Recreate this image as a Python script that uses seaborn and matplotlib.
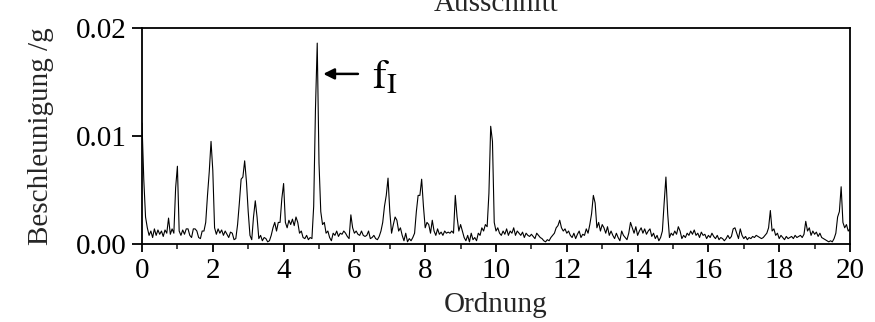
import numpy as np
import pandas as pd
import matplotlib
matplotlib.use("Agg")
import matplotlib.pyplot as plt
import seaborn as sns

# Amplitudes in units of 1e-4 g, sampled every 0.05 order (20 samples per order)
amp_00_04 = [
    112, 60, 25, 15, 8, 12, 6, 14, 8, 13, 9, 12, 7, 13, 10, 24, 9, 14, 10, 52,
    72, 12, 8, 13, 9, 14, 14, 8, 6, 14, 14, 12, 6, 5, 12, 12, 20, 45, 67, 95,
    68, 15, 9, 14, 10, 13, 8, 12, 9, 6, 11, 10, 4, 5, 18, 38, 60, 62, 77, 58,
    30, 8, 4, 25, 40, 25, 5, 8, 3, 6, 5, 2, 3, 8, 15, 20, 12, 20, 20, 42,
    56, 20, 15, 22, 18, 23, 17, 25, 20, 10, 12, 6, 5, 8, 4, 6, 5, 35, 125, 186,
]
amp_05_09 = [
    75, 30, 18, 20, 10, 12, 6, 3, 10, 8, 12, 7, 10, 9, 12, 10, 7, 5, 27, 15,
    10, 12, 9, 8, 12, 8, 7, 8, 12, 5, 6, 8, 5, 4, 7, 12, 20, 35, 45, 61,
    30, 10, 18, 25, 22, 12, 15, 8, 3, 10, 2, 5, 3, 6, 10, 30, 45, 45, 60, 35,
    15, 20, 18, 10, 22, 12, 8, 14, 9, 11, 8, 12, 10, 11, 10, 12, 10, 45, 25, 12,
    18, 12, 6, 3, 8, 2, 10, 4, 6, 3, 10, 8, 15, 12, 18, 16, 47, 109, 95, 20,
]
amp_10_14 = [
    12, 15, 10, 8, 12, 9, 14, 8, 12, 10, 15, 8, 12, 10, 8, 11, 6, 10, 8, 7,
    9, 7, 5, 10, 8, 6, 5, 3, 2, 4, 3, 6, 8, 10, 15, 17, 22, 15, 12, 14,
    10, 12, 8, 6, 10, 5, 9, 12, 6, 9, 8, 14, 10, 18, 28, 45, 38, 15, 20, 12,
    18, 15, 10, 16, 8, 12, 8, 5, 10, 6, 3, 12, 8, 6, 4, 10, 20, 15, 10, 16,
    8, 12, 15, 10, 14, 9, 12, 14, 7, 10, 5, 8, 3, 6, 12, 38, 62, 28, 6, 10,
]
amp_15_20 = [
    8, 12, 9, 16, 12, 5, 8, 6, 10, 8, 12, 9, 13, 8, 10, 6, 11, 8, 9, 5,
    8, 6, 10, 7, 5, 8, 4, 6, 5, 3, 5, 8, 5, 7, 14, 15, 10, 5, 14, 8,
    5, 7, 4, 6, 5, 7, 6, 8, 7, 6, 5, 6, 8, 10, 15, 31, 12, 14, 8, 10,
    5, 8, 6, 4, 7, 5, 6, 7, 5, 8, 6, 7, 8, 6, 9, 21, 12, 15, 8, 12,
    9, 11, 7, 10, 6, 5, 4, 3, 2, 3, 2, 5, 10, 25, 30, 53, 20, 15, 18, 12,
    14,
]
order_step = 0.05
amp_unit = 1e-4

x_ticks = [0, 2, 4, 6, 8, 10, 12, 14, 16, 18, 20]
y_ticks = [0.00, 0.01, 0.02]
y_ticklabels = ["0.00", "0.01", "0.02"]

amp = np.array(amp_00_04 + amp_05_09 + amp_10_14 + amp_15_20) * amp_unit
order = np.arange(len(amp)) * order_step
df = pd.DataFrame({"Ordnung": order, "amp": amp})

sns.set_style("ticks")
plt.rcParams["font.family"] = ["Liberation Serif", "DejaVu Serif"]
plt.rcParams["mathtext.fontset"] = "stix"

fig = plt.figure(figsize=(8.75, 3.22), dpi=100)
ax = fig.add_axes([142 / 875, 78 / 322, 708 / 875, 216 / 322])

sns.lineplot(data=df, x="Ordnung", y="amp", ax=ax, color="black",
             linewidth=0.8, estimator=None)

ax.set_xlim(0, 20)
ax.set_ylim(0, 0.02)
ax.set_xticks(x_ticks)
ax.set_xticks(np.arange(1, 20, 2), minor=True)
ax.set_yticks(y_ticks)
ax.set_yticklabels(y_ticklabels)

for side in ["left", "bottom", "top", "right"]:
    ax.spines[side].set_visible(True)
    ax.spines[side].set_linewidth(1.3)
    ax.spines[side].set_color("black")

ax.tick_params(axis="both", which="major", labelsize=21, colors="black",
               width=1.3, direction="out")
ax.tick_params(axis="x", which="major", length=6, pad=4)
ax.tick_params(axis="y", which="major", length=7, pad=4)
ax.tick_params(axis="x", which="minor", length=3.5, width=1.2)

ax.set_xlabel("Ordnung", fontsize=21, labelpad=6)
ax.set_ylabel("Beschleunigung /g", fontsize=21, labelpad=16)
ax.set_title("Ausschnitt", fontsize=21, pad=12)

ax.annotate("", xy=(5.12, 0.01575), xytext=(6.1, 0.01575),
            arrowprops=dict(arrowstyle="-|>", color="black", lw=1.8,
                            mutation_scale=16, shrinkA=0, shrinkB=0))
ax.text(6.5, 0.0144, r"$\mathrm{f}_\mathrm{I}$", fontsize=30, color="black",
        va="baseline", ha="left")

fig.savefig("out.png", dpi=100)
